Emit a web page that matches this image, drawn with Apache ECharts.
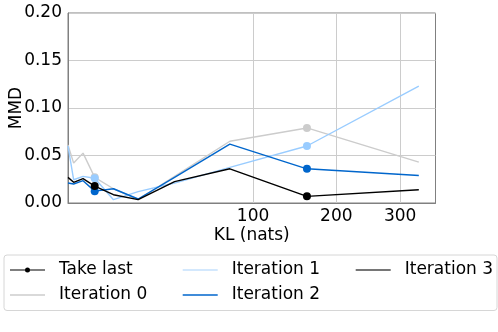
<!DOCTYPE html>
<html>
<head>
<meta charset="utf-8">
<script src="https://cdn.jsdelivr.net/npm/echarts@6/dist/echarts.min.js"></script>
<style>
html,body{margin:0;padding:0;background:#fff;}
#chart{width:498px;height:332px;}
</style>
</head>
<body>
<div id="chart"></div>
<script>
// KL (nats) positions of the points
var klValues = [0.62, 1.14, 2.36, 4.48, 9.3, 18.3, 37.1, 78.2, 160.8, 333];
// MMD per iteration
var iteration0 = [0.061, 0.042, 0.0525, 0.027, 0.015, 0.0035, 0.028, 0.065, 0.079, 0.043];
var iteration1 = [0.060, 0.0245, 0.028, 0.026, 0.0035, 0.012, 0.021, 0.0375, 0.060, 0.123];
var iteration2 = [0.021, 0.020, 0.0235, 0.0125, 0.015, 0.0042, 0.027, 0.062, 0.036, 0.029];
var iteration3 = [0.027, 0.0218, 0.0256, 0.0178, 0.0087, 0.0035, 0.0225, 0.036, 0.007, 0.014];
// "Take last" markers
var takeLastKL = [4.48, 160.8];
var takeLast0 = [0.027, 0.079];
var takeLast1 = [0.026, 0.060];
var takeLast2 = [0.0125, 0.036];
var takeLast3 = [0.0178, 0.007];
var xTickLabels = [100, 200, 300];
var yTicks = [0, 0.05, 0.10, 0.15, 0.20];
var seriesNames = ['Iteration 0', 'Iteration 1', 'Iteration 2', 'Iteration 3'];

var lineColors = ['#cccccc', '#99ccff', '#0066cc', '#000000'];
var legendColors = ['#cccccc', '#c4e0fc', '#0066cc', '#484848'];
var FONT = 'DejaVu Sans';
var FS = 17;

function tr(v){ return Math.sqrt(v); }
function pairs(xs, ys){ return xs.map(function(x,i){ return [tr(x), ys[i]]; }); }

var iters = [iteration0, iteration1, iteration2, iteration3];
var takes = [takeLast0, takeLast1, takeLast2, takeLast3];

var series = iters.map(function(vals, k){
  return {
    name: seriesNames[k], type: 'line', data: pairs(klValues, vals),
    symbol: 'none', lineStyle: {color: lineColors[k], width: 1.4},
    itemStyle: {color: lineColors[k]}, z: 2 + k, animation: false
  };
});
var takeData = [];
takes.forEach(function(vals, k){
  takeLastKL.forEach(function(x, i){
    takeData.push({value: [tr(x), vals[i]], itemStyle: {color: lineColors[k]}});
  });
});
series.push({
  name: 'Take last', type: 'scatter', data: takeData, symbol: 'circle',
  symbolSize: 8, z: 10, animation: false, itemStyle: {opacity: 1}
});

var lineIcon = 'path://M0,0L35,0L35,1.5L0,1.5Z';
var dotIcon = 'path://M0,2.5L35,2.5L35,3.5L0,3.5Z M20,3A2.5,2.5 0 1 1 15,3A2.5,2.5 0 1 1 20,3Z';
function legendItem(name, color, icon){
  return {name: name, icon: icon, itemStyle: {color: color, borderWidth: 0, opacity: 1}};
}
function makeLegend(left, items){
  return {
    orient: 'vertical', left: left, top: 260, padding: 0, itemGap: 5,
    itemWidth: 35, itemHeight: 10, selectedMode: false,
    textStyle: {fontFamily: FONT, fontSize: FS, color: '#000', lineHeight: 20, padding: [0,0,0,9]},
    data: items
  };
}

var option = {
  backgroundColor: '#ffffff',
  animation: false,
  grid: {left: 68, right: 62.5, top: 13, bottom: 129, show: true, containLabel: false,
         outerBoundsMode: 'none',
         borderColor: '#808080', borderWidth: 1, backgroundColor: 'transparent'},
  xAxis: {
    type: 'value', min: tr(0.62), max: tr(364),
    name: 'KL (nats)', nameLocation: 'middle', nameGap: 24, nameMoveOverlap: false,
    nameTextStyle: {fontFamily: FONT, fontSize: FS, color: '#000'},
    axisLine: {show: true, lineStyle: {color: '#808080'}},
    axisTick: {show: false, customValues: xTickLabels.map(tr)},
    axisLabel: {customValues: xTickLabels.map(tr), margin: 5,
      fontFamily: FONT, fontSize: FS, color: '#000',
      formatter: function(v){ return String(Math.round(v*v)); }},
    splitLine: {show: true, lineStyle: {color: '#cccccc', width: 1}}
  },
  yAxis: {
    type: 'value', min: yTicks[0], max: yTicks[yTicks.length-1], interval: 0.05,
    name: 'MMD', nameLocation: 'middle', nameGap: 43, nameMoveOverlap: false,
    nameTextStyle: {fontFamily: FONT, fontSize: FS, color: '#000'},
    axisLine: {show: true, lineStyle: {color: '#808080'}},
    axisTick: {show: false},
    axisLabel: {margin: 6, fontFamily: FONT, fontSize: FS, color: '#000',
      formatter: function(v){ return v.toFixed(2); }},
    splitLine: {show: true, lineStyle: {color: '#cccccc', width: 1}}
  },
  legend: [
    makeLegend(10, [legendItem('Take last', '#000000', dotIcon), legendItem(seriesNames[0], legendColors[0], lineIcon)]),
    makeLegend(182.7, [legendItem(seriesNames[1], legendColors[1], lineIcon), legendItem(seriesNames[2], legendColors[2], lineIcon)]),
    makeLegend(355.7, [legendItem(seriesNames[3], legendColors[3], lineIcon)])
  ],
  graphic: [{
    type: 'rect', left: 3.5, top: 254.5, z: 0,
    shape: {width: 493, height: 55.5, r: 3},
    style: {fill: '#ffffff', stroke: '#d6d6d6', lineWidth: 1}
  }],
  series: series
};

var chart = echarts.init(document.getElementById('chart'), null, {renderer: 'canvas'});
chart.setOption(option);
</script>
</body>
</html>
